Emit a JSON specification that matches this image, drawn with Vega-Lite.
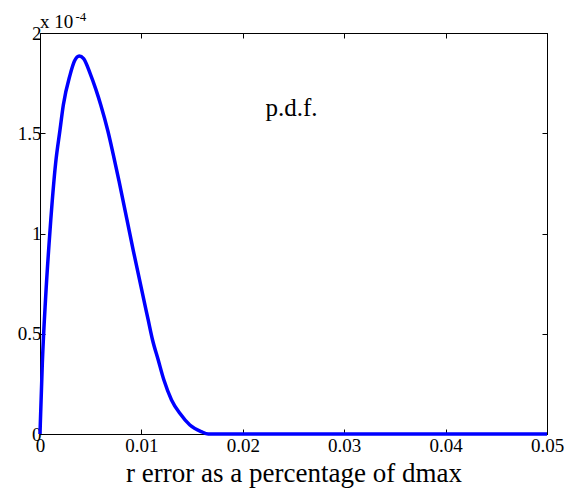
{
  "$schema": "https://vega.github.io/schema/vega-lite/v6.json",
  "width": 507,
  "height": 401,
  "autosize": {"type": "none"},
  "padding": {"left": 40, "top": 33, "right": 18, "bottom": 57},
  "background": "white",
  "config": {
    "view": {"stroke": "black", "strokeWidth": 1},
    "font": "'Liberation Serif', serif",
    "axis": {
      "grid": false,
      "domainColor": "black",
      "tickColor": "black",
      "labelColor": "black",
      "labelFont": "'Liberation Serif', serif",
      "labelFontSize": 19,
      "titleFont": "'Liberation Serif', serif",
      "titleColor": "black",
      "titleFontWeight": "normal"
    }
  },
  "data": {
    "values": [
      {"x": 0, "y": 0},
      {"x": 0.00003, "y": 0.05},
      {"x": 0.00023, "y": 0.353},
      {"x": 0.00056, "y": 0.685},
      {"x": 0.00099, "y": 1.017},
      {"x": 0.00154, "y": 1.35},
      {"x": 0.00197, "y": 1.516},
      {"x": 0.0023, "y": 1.641},
      {"x": 0.00296, "y": 1.79},
      {"x": 0.0034, "y": 1.86},
      {"x": 0.00387, "y": 1.885},
      {"x": 0.0043, "y": 1.872},
      {"x": 0.00493, "y": 1.8},
      {"x": 0.0055, "y": 1.72},
      {"x": 0.006, "y": 1.64},
      {"x": 0.0067, "y": 1.51},
      {"x": 0.0072, "y": 1.4},
      {"x": 0.0078, "y": 1.26},
      {"x": 0.0092, "y": 0.915},
      {"x": 0.01067, "y": 0.569},
      {"x": 0.0111, "y": 0.469},
      {"x": 0.01166, "y": 0.369},
      {"x": 0.01222, "y": 0.269},
      {"x": 0.01297, "y": 0.17},
      {"x": 0.01379, "y": 0.103},
      {"x": 0.01478, "y": 0.045},
      {"x": 0.0159, "y": 0.012},
      {"x": 0.0166, "y": 0},
      {"x": 0.05, "y": 0}
    ]
  },
  "layer": [
    {
      "mark": {"type": "line", "color": "#0000FF", "strokeWidth": 3.5, "interpolate": "monotone"},
      "encoding": {
        "x": {
          "field": "x", "type": "quantitative",
          "scale": {"domain": [0, 0.05], "nice": false, "zero": false},
          "axis": {
            "orient": "bottom",
            "values": [0, 0.01, 0.02, 0.03, 0.04, 0.05],
            "format": ".2~f",
            "tickSize": -5,
            "labelPadding": 7,
            "labelFlush": false,
            "title": "r error as a percentage of dmax",
            "titleFontSize": 27,
            "titlePadding": 5
          }
        },
        "y": {
          "field": "y", "type": "quantitative",
          "scale": {"domain": [0, 2], "nice": false},
          "axis": {
            "orient": "left",
            "values": [0, 0.5, 1, 1.5, 2],
            "format": "~g",
            "tickSize": -5,
            "labelPadding": 4,
            "labelFlush": false,
            "labelBaseline": "middle",
            "title": null
          }
        }
      }
    },
    {
      "mark": {"type": "line", "strokeOpacity": 0},
      "encoding": {
        "x": {
          "field": "x", "type": "quantitative",
          "axis": {"orient": "top", "values": [0, 0.01, 0.02, 0.03, 0.04, 0.05], "labels": false, "tickSize": -5, "title": null}
        },
        "y": {
          "field": "y", "type": "quantitative",
          "axis": {"orient": "right", "values": [0, 0.5, 1, 1.5, 2], "labels": false, "tickSize": -5, "title": null}
        }
      }
    },
    {
      "data": {"values": [{"tx": 0.0248, "ty": 1.586, "label": "p.d.f."}]},
      "mark": {"type": "text", "font": "'Liberation Serif', serif", "fontSize": 25, "align": "center", "baseline": "alphabetic", "color": "black"},
      "encoding": {
        "x": {"field": "tx", "type": "quantitative", "axis": null},
        "y": {"field": "ty", "type": "quantitative", "axis": null},
        "text": {"field": "label"}
      }
    },
    {
      "data": {"values": [{"tx": 0, "ty": 2.025, "label": "x 10"}]},
      "mark": {"type": "text", "font": "'Liberation Serif', serif", "fontSize": 19, "align": "left", "baseline": "alphabetic", "color": "black"},
      "encoding": {
        "x": {"field": "tx", "type": "quantitative", "axis": null},
        "y": {"field": "ty", "type": "quantitative", "axis": null},
        "text": {"field": "label"}
      }
    },
    {
      "data": {"values": [{"tx": 0.0035, "ty": 2.06, "label": "-4"}]},
      "mark": {"type": "text", "font": "'Liberation Serif', serif", "fontSize": 13, "align": "left", "baseline": "alphabetic", "color": "black"},
      "encoding": {
        "x": {"field": "tx", "type": "quantitative", "axis": null},
        "y": {"field": "ty", "type": "quantitative", "axis": null},
        "text": {"field": "label"}
      }
    }
  ],
  "resolve": {"axis": {"x": "independent", "y": "independent"}}
}
